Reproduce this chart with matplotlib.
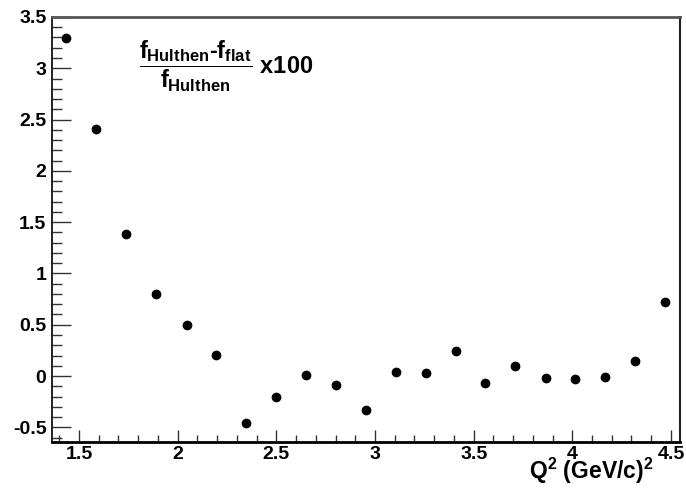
import numpy as np
import matplotlib
matplotlib.use('Agg')
import matplotlib.pyplot as plt
from matplotlib.ticker import MultipleLocator

plt.rcParams['font.family'] = 'Liberation Sans'
plt.rcParams['font.weight'] = 'bold'
plt.rcParams['mathtext.fontset'] = 'custom'
plt.rcParams['mathtext.rm'] = 'Liberation Sans:bold'
plt.rcParams['mathtext.it'] = 'Liberation Sans:bold'
plt.rcParams['mathtext.bf'] = 'Liberation Sans:bold'

# Q^2 bins and relative difference (%)
q2 = [1.434, 1.586, 1.739, 1.891, 2.045, 2.195, 2.348, 2.500, 2.649, 2.803,
      2.953, 3.108, 3.258, 3.409, 3.559, 3.710, 3.866, 4.014, 4.166, 4.317, 4.468]
diff = [3.294, 2.411, 1.386, 0.796, 0.494, 0.202, -0.454, -0.201, 0.007, -0.091,
        -0.327, 0.043, 0.026, 0.241, -0.064, 0.097, -0.022, -0.032, -0.006, 0.146, 0.721]

fig = plt.figure(figsize=(6.86, 4.88), dpi=100)
ax = fig.add_axes([0.0758, 0.0943, 0.9155, 0.8709])

ax.plot(q2, diff, 'o', color='black', markersize=6)

ax.set_xlim(1.363, 4.546)
ax.set_ylim(-0.643, 3.5)

ax.xaxis.set_major_locator(MultipleLocator(0.5))
ax.xaxis.set_minor_locator(MultipleLocator(0.1))
ax.yaxis.set_major_locator(MultipleLocator(0.5))
ax.yaxis.set_minor_locator(MultipleLocator(0.1))
ax.xaxis.set_major_formatter(plt.FuncFormatter(lambda v, p: '%g' % v))
ax.yaxis.set_major_formatter(plt.FuncFormatter(lambda v, p: '%g' % v))

ax.tick_params(axis='both', which='both', direction='in', top=False, right=False,
               labelsize=14, color='#333333', width=1)
ax.tick_params(axis='x', which='major', length=9, pad=3)
ax.tick_params(axis='x', which='minor', length=5)
ax.tick_params(axis='y', which='major', length=14, pad=4)
ax.tick_params(axis='y', which='minor', length=7)

ax.spines['top'].set_color('#555555')
ax.spines['top'].set_linewidth(2)
ax.spines['right'].set_color('#222222')
ax.spines['right'].set_linewidth(1.5)
ax.spines['left'].set_linewidth(1.2)
ax.spines['bottom'].set_linewidth(2)

fig.text(0.953, 0.019, r'Q$^{2}$ (GeV/c)$^{2}$', fontsize=16.5, fontweight='bold',
         ha='right', va='baseline')

fig.text(0.203, 0.864, r'$\dfrac{f_{Hulthen}\text{-}f_{flat}}{f_{Hulthen}}$ x100',
         fontsize=17, fontweight='bold', ha='left', va='center')

plt.savefig('out.png', dpi=100)
